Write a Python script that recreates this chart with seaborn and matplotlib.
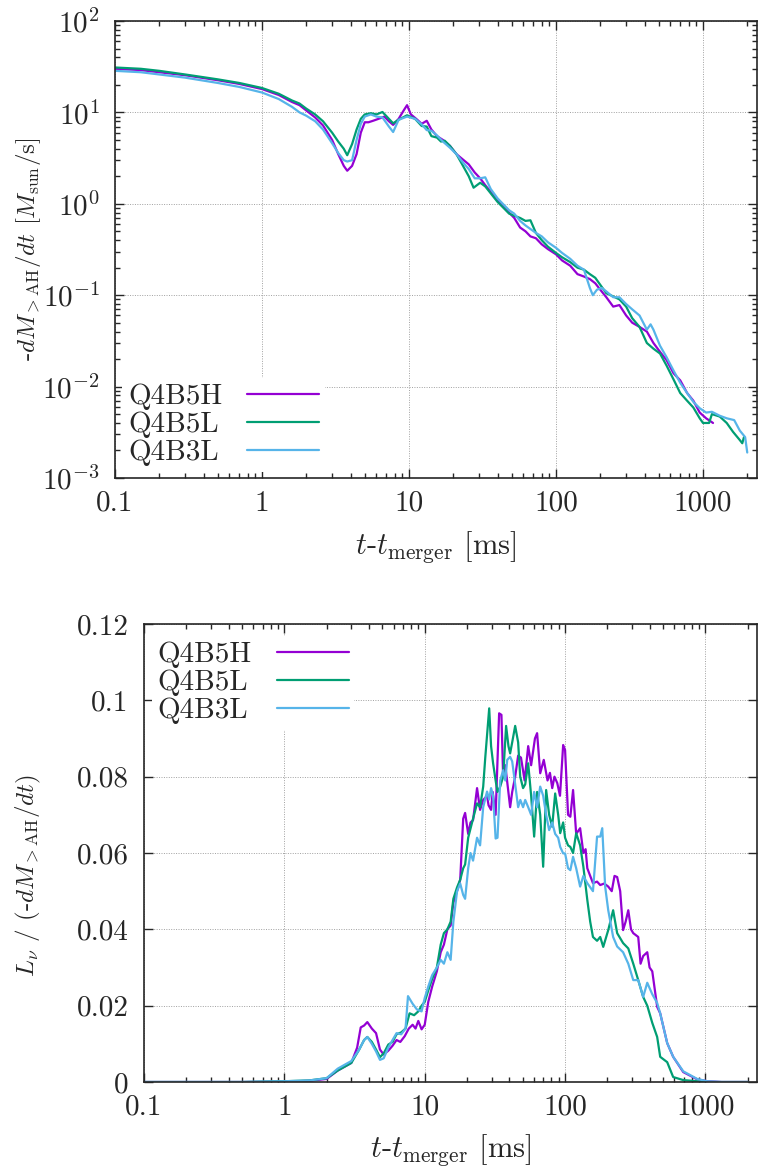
import numpy as np
import pandas as pd
import matplotlib
matplotlib.use("Agg")
import matplotlib.pyplot as plt
import matplotlib.ticker as mticker
import seaborn as sns

# --- Data ---
labels = ["Q4B5H", "Q4B5L", "Q4B3L"]
colors = ["#9400d3", "#009e73", "#56b4e9"]

# top panel: -dM/dt [Msun/s] vs t - t_merger [ms]
t_top_h = [0.1, 0.15, 0.2, 0.3, 0.5, 0.7, 1.0, 1.3, 1.6, 1.8, 2.0, 2.3, 2.6, 3.0, 3.3, 3.6, 3.8, 4.1, 4.4, 4.7,
           5.0, 5.3, 5.7, 6.2, 6.8, 7.3, 7.8, 8.5, 9.2, 9.7, 10.3, 11.2, 12.2, 13.2, 14.2, 15.5, 17, 19, 21, 23,
           25.5, 28, 30.5, 33, 36, 40, 44, 48, 52, 57, 62, 67, 73, 80, 88, 100, 110, 125, 140, 155,
           170, 185, 200, 220, 245, 270, 300, 330, 370, 415, 460, 510, 565, 630, 700, 780, 860, 950, 1050, 1170]
y_top_h = [30, 29, 27.5, 25.5, 22.5, 20.5, 18, 15.5, 13, 12, 10.5, 8.8, 7.2, 5.0, 3.5, 2.6, 2.3, 2.6, 3.5, 6.0,
           7.8, 7.8, 8.1, 8.5, 9.0, 8.0, 7.3, 8.5, 10.5, 12.0, 9.5, 8.5, 7.5, 8.1, 6.5, 5.5, 5.0, 4.3, 3.5, 3.1,
           2.7, 2.2, 1.9, 1.6, 1.35, 1.1, 0.95, 0.8, 0.70, 0.55, 0.50, 0.44, 0.42, 0.36, 0.32, 0.28, 0.24, 0.21, 0.17, 0.16,
           0.15, 0.135, 0.115, 0.095, 0.075, 0.078, 0.060, 0.050, 0.045, 0.040, 0.030, 0.024, 0.0195, 0.014, 0.0117,
           0.0085, 0.0070, 0.0052, 0.0045, 0.0040]

t_top_l5 = [0.1, 0.15, 0.2, 0.3, 0.5, 0.7, 1.0, 1.3, 1.6, 1.8, 2.0, 2.3, 2.6, 3.0, 3.3, 3.6, 3.8, 4.1, 4.4, 4.7,
            5.0, 5.5, 6.0, 6.6, 7.3, 7.8, 8.5, 9.7, 11, 12.2, 13.2, 14.2, 15.5, 16.5, 17.5, 19, 21, 23, 25.5, 27.5,
            30.5, 33, 36, 40, 44, 48, 52, 57, 62, 67, 73, 80, 88, 100, 110, 125, 140, 155, 170, 185,
            200, 220, 245, 270, 300, 330, 370, 415, 460, 510, 565, 630, 700, 780, 860, 950, 1000, 1100, 1150, 1300,
            1450, 1600, 1780, 1850, 1900]
y_top_l5 = [31, 30, 28.5, 26, 23, 21, 18.5, 16, 13.5, 12.5, 11, 9.5, 8.0, 6.0, 4.8, 4.0, 3.4, 4.5, 6.5, 8.5,
            9.5, 9.8, 9.5, 10.1, 8.5, 7.6, 8.3, 9.3, 8.5, 7.1, 7.0, 5.5, 5.3, 4.8, 4.9, 4.3, 3.5, 2.7, 2.0, 1.5,
            1.7, 1.55, 1.3, 1.05, 0.9, 0.78, 0.74, 0.70, 0.65, 0.66, 0.48, 0.40, 0.34, 0.29, 0.26, 0.23, 0.20, 0.19, 0.17, 0.155,
            0.13, 0.105, 0.097, 0.090, 0.075, 0.056, 0.045, 0.030, 0.026, 0.023, 0.017, 0.012, 0.0085, 0.0070, 0.0059,
            0.0045, 0.0040, 0.0040, 0.0050, 0.0047, 0.0040, 0.0032, 0.0026, 0.0024, 0.0028]

t_top_l3 = [0.1, 0.15, 0.2, 0.3, 0.5, 0.7, 1.0, 1.3, 1.6, 1.8, 2.0, 2.3, 2.6, 3.0, 3.3, 3.6, 3.8, 4.1, 4.4, 4.7,
            5.0, 5.5, 6.0, 6.6, 7.3, 7.8, 8.5, 9.7, 11, 12.2, 13.2, 14.2, 15.5, 17, 19, 21, 23, 25.5, 28, 30.5,
            33, 36, 40, 44, 48, 52, 57, 62, 67, 73, 80, 88, 100, 110, 125, 140, 155, 170, 178, 190,
            205, 220, 245, 270, 300, 330, 370, 415, 440, 460, 510, 565, 630, 700, 780, 860, 950, 1050, 1150, 1300,
            1450, 1630, 1780, 1935, 2000]
y_top_l3 = [28.5, 27.5, 26, 24, 21, 19, 16.5, 14, 11.5, 10.0, 9.2, 8.0, 6.5, 4.6, 3.6, 3.0, 2.9, 3.0, 5.0, 7.5,
            9.0, 9.5, 9.0, 8.8, 7.0, 6.1, 8.3, 9.0, 8.5, 7.4, 6.4, 6.3, 5.6, 4.8, 4.1, 3.5, 2.9, 2.4, 1.9, 1.9,
            1.95, 1.45, 1.15, 0.98, 0.85, 0.78, 0.65, 0.58, 0.53, 0.48, 0.44, 0.38, 0.33, 0.29, 0.25, 0.21, 0.19, 0.12, 0.10, 0.115,
            0.12, 0.11, 0.095, 0.095, 0.080, 0.070, 0.060, 0.042, 0.048, 0.042, 0.028, 0.021, 0.015, 0.011, 0.0085,
            0.0068, 0.0058, 0.0052, 0.0053, 0.0048, 0.0045, 0.0043, 0.0033, 0.0028, 0.0019]

# bottom panel: L_nu / (-dM/dt)
t_bot_h = [0.1, 0.5, 1.0, 1.5, 2.0, 2.4, 3.0, 3.3, 3.5, 3.7, 3.9, 4.2, 4.5, 4.8, 5.1, 5.5, 5.9, 6.3, 6.7, 7.2,
           7.7, 8.2, 8.6, 9.0, 9.5, 10.0, 10.6, 11.3, 12.2, 13.0, 13.7, 14.5, 15.3, 16.0, 17.0, 17.9, 18.8, 19.4, 20.4, 21.2,
           22.1, 23.6, 24.8, 26.1, 27.8, 28.5, 29.7, 30.5, 32.0, 33.9, 35.2, 36.2, 37.5, 40.6, 42.0, 44.1, 46.3, 48.5, 51.5, 54.6,
           57.3, 61, 63.2, 66.5, 70.5, 75, 78, 81, 84, 88, 92, 96.9, 100, 105, 109, 114, 120, 128, 135, 140,
           144, 151, 158, 169, 178, 190, 203, 215, 225, 235, 247, 259, 270, 282, 295, 306, 332, 345, 360, 385,
           400, 418, 453, 476, 534, 589, 695, 874, 1030, 1300, 2000]
y_bot_h = [0, 0, 0.0001, 0.0003, 0.0008, 0.0030, 0.0050, 0.0090, 0.0143, 0.0148, 0.0157, 0.0140, 0.0128, 0.0085, 0.0072, 0.0082, 0.0095, 0.0110, 0.0105, 0.0120,
           0.0140, 0.0150, 0.0140, 0.0160, 0.0138, 0.0150, 0.0210, 0.0250, 0.0290, 0.0340, 0.0360, 0.0400, 0.0410, 0.0470, 0.0500, 0.0530, 0.0690, 0.0705, 0.0650, 0.0680,
           0.0686, 0.0770, 0.0713, 0.0739, 0.0750, 0.0725, 0.0713, 0.0760, 0.0700, 0.0966, 0.0962, 0.0800, 0.0830, 0.0720, 0.0760, 0.0800, 0.0855, 0.0850, 0.0790, 0.0880,
           0.0830, 0.0900, 0.0914, 0.0809, 0.0844, 0.0790, 0.0810, 0.0770, 0.0800, 0.0783, 0.0750, 0.0883, 0.0870, 0.0700, 0.0695, 0.0765, 0.0650, 0.0665, 0.0600, 0.0610,
           0.0560, 0.0540, 0.0521, 0.0525, 0.0516, 0.0520, 0.0512, 0.0500, 0.0540, 0.0537, 0.0500, 0.0398, 0.0420, 0.0450, 0.0400, 0.0390, 0.0380, 0.0310, 0.0330, 0.0340,
           0.0300, 0.0290, 0.0197, 0.0180, 0.0102, 0.0066, 0.0026, 0.0007, 0.0002, 0.0, 0.0]

t_bot_l5 = [0.1, 0.5, 1.0, 1.5, 2.0, 2.4, 3.0, 3.4, 3.7, 3.9, 4.2, 4.5, 4.8, 5.1, 5.5, 5.9, 6.3, 6.8, 7.3, 7.8,
            8.4, 9.0, 9.5, 10.0, 10.6, 11.3, 12.2, 13.0, 13.7, 14.5, 15.3, 16.0, 17.0, 17.9, 18.8, 19.4, 20.4, 22.1, 23.6, 24.8,
            26.1, 27.0, 28.8, 29.7, 30.7, 32.0, 33.0, 34.5, 36.2, 38.0, 39.5, 40.6, 42.0, 44.1, 46.3, 47.9, 50.2, 52.0, 54.6, 57.3,
            60.2, 63.2, 66.5, 69.8, 73.3, 77.0, 80.9, 85.0, 89.3, 92.3, 96.9, 100, 105, 109, 114, 120, 128, 135, 144, 151,
            158, 169, 178, 187, 203, 220, 235, 259, 282, 306, 332, 360, 385, 418, 453, 476, 534, 589, 695, 874,
            1030, 2000]
y_bot_l5 = [0, 0, 0.0002, 0.0004, 0.0010, 0.0030, 0.0050, 0.0084, 0.0110, 0.0118, 0.0105, 0.0085, 0.0065, 0.0075, 0.0098, 0.0105, 0.0125, 0.0130, 0.0140, 0.0180,
            0.0175, 0.0185, 0.0200, 0.0210, 0.0240, 0.0270, 0.0300, 0.0360, 0.0390, 0.0400, 0.0420, 0.0480, 0.0510, 0.0530, 0.0560, 0.0570, 0.0640, 0.0690, 0.0730, 0.0720,
            0.0774, 0.0850, 0.0979, 0.0880, 0.0835, 0.0790, 0.0760, 0.0774, 0.0800, 0.0933, 0.0880, 0.0861, 0.0890, 0.0933, 0.0890, 0.0800, 0.0770, 0.0780, 0.0835, 0.0750,
            0.0643, 0.0760, 0.0700, 0.0564, 0.0765, 0.0700, 0.0669, 0.0756, 0.0700, 0.0652, 0.0680, 0.0640, 0.0620, 0.0616, 0.0600, 0.0652, 0.0620, 0.0564, 0.0477, 0.0420,
            0.0380, 0.0370, 0.0380, 0.0354, 0.0398, 0.0450, 0.0390, 0.0364, 0.0350, 0.0310, 0.0267, 0.0223, 0.0200, 0.0155, 0.0118, 0.0066, 0.0052, 0.0013, 0.0005, 0.0002,
            0.0, 0.0]

t_bot_l3 = [0.1, 0.5, 1.0, 1.5, 2.0, 2.4, 3.0, 3.4, 3.7, 3.9, 4.2, 4.5, 4.8, 5.1, 5.5, 5.9, 6.3, 6.8, 7.3, 7.6,
            8.2, 8.8, 9.5, 10.0, 10.6, 11.3, 12.2, 13.0, 13.7, 14.5, 15.3, 16.0, 17.0, 17.9, 18.8, 19.4, 20.4, 21.2, 22.1, 23.6,
            24.8, 26.1, 27.8, 28.8, 29.7, 30.7, 32.0, 33.0, 34.5, 36.2, 37.5, 38.7, 40.6, 42.0, 44.1, 46.3, 48, 50.2, 52.0, 54.6,
            57.3, 60.2, 63.2, 66.5, 69.8, 73.3, 77.0, 80.9, 85.0, 89.3, 92.3, 96.9, 100, 105, 109, 114, 120, 128, 135, 144,
            158, 169, 178, 184, 193, 203, 220, 235, 259, 282, 306, 332, 360, 385, 418, 453, 476, 534, 589, 695,
            874, 1030, 1300, 2000]
y_bot_l3 = [0, 0, 0.0002, 0.0004, 0.0010, 0.0035, 0.0055, 0.0084, 0.0110, 0.0118, 0.0100, 0.0080, 0.0058, 0.0062, 0.0090, 0.0110, 0.0128, 0.0125, 0.0140, 0.0225,
            0.0205, 0.0190, 0.0185, 0.0220, 0.0250, 0.0280, 0.0300, 0.0320, 0.0310, 0.0340, 0.0320, 0.0420, 0.0500, 0.0520, 0.0490, 0.0480, 0.0560, 0.0600, 0.0580, 0.0640,
            0.0620, 0.0720, 0.0761, 0.0740, 0.0770, 0.0750, 0.0638, 0.0640, 0.0790, 0.0817, 0.0790, 0.0844, 0.0852, 0.0840, 0.0780, 0.0720, 0.0739, 0.0720, 0.0739, 0.0720,
            0.0700, 0.0760, 0.0720, 0.0774, 0.0750, 0.0700, 0.0660, 0.0680, 0.0650, 0.0640, 0.0616, 0.0599, 0.0599, 0.0560, 0.0555, 0.0590, 0.0560, 0.0512, 0.0540, 0.0521,
            0.0500, 0.0643, 0.0643, 0.0665, 0.0512, 0.0450, 0.0380, 0.0355, 0.0340, 0.0310, 0.0267, 0.0267, 0.0223, 0.0260, 0.0230, 0.0207, 0.0180, 0.0102, 0.0066, 0.0028,
            0.0008, 0.0002, 0.0, 0.0]

top_series = [(t_top_h, y_top_h), (t_top_l5, y_top_l5), (t_top_l3, y_top_l3)]
bot_series = [(t_bot_h, y_bot_h), (t_bot_l5, y_bot_l5), (t_bot_l3, y_bot_l3)]

# --- Style ---
sns.set_style("ticks")
plt.rcParams["font.family"] = ["cmr10", "DejaVu Serif"]
plt.rcParams["mathtext.fontset"] = "cm"
plt.rcParams["axes.unicode_minus"] = False
plt.rcParams["axes.formatter.use_mathtext"] = True
FS = 21     # tick labels / legend
XFS = 22    # x labels
YFS = 18    # y labels

fig = plt.figure(figsize=(7.58, 11.75), dpi=100)
ax1 = fig.add_axes([115 / 758, 1 - 478 / 1175, 642 / 758, 457 / 1175])
ax2 = fig.add_axes([144 / 758, 1 - 1082 / 1175, 613 / 758, 458 / 1175])

for ax, series in [(ax1, top_series), (ax2, bot_series)]:
    for (t, y), lab, col in zip(series, labels, colors):
        df = pd.DataFrame({"t": t, "y": y})
        sns.lineplot(data=df, x="t", y="y", ax=ax, color=col, lw=1.6, label=lab,
                     sort=False, estimator=None)
    ax.set_xscale("log")
    ax.set_xlim(0.1, 2330)
    ax.xaxis.set_major_locator(mticker.LogLocator(base=10, numticks=10))
    ax.xaxis.set_minor_locator(mticker.LogLocator(base=10, subs=np.arange(2, 10), numticks=10))
    ax.xaxis.set_major_formatter(mticker.FuncFormatter(lambda v, p: "%g" % v))
    ax.xaxis.set_minor_formatter(mticker.NullFormatter())
    ax.grid(True, which="major", color="#a0a0a0", ls=(0, (1, 1.5)), lw=0.7)
    ax.tick_params(which="both", direction="in", top=True, right=True, labelsize=FS, width=1.0)
    ax.tick_params(which="major", length=6.5)
    ax.tick_params(which="minor", length=3.3)
    ax.tick_params(axis="x", pad=9)
    ax.tick_params(axis="y", pad=11)
    for s in ax.spines.values():
        s.set_linewidth(1.2)
    ax.set_xlabel(r"$t$-$t_{\mathrm{merger}}$ [ms]", fontsize=XFS)

# top panel axes
ax1.set_yscale("log")
ax1.set_ylim(1e-3, 1e2)
ax1.yaxis.set_major_locator(mticker.LogLocator(base=10, numticks=10))
ax1.yaxis.set_minor_locator(mticker.LogLocator(base=10, subs=np.arange(2, 10), numticks=10))
ax1.yaxis.set_minor_formatter(mticker.NullFormatter())
ax1.set_ylabel(r"-$dM_{>\mathrm{AH}}/dt$ [$M_{\mathrm{sun}}/\mathrm{s}$]", fontsize=YFS)
ax1.yaxis.set_label_coords(-0.112, 0.5)
ax1.xaxis.set_label_coords(0.5, -0.112)

# bottom panel axes
ax2.set_ylim(0, 0.12)
ax2.set_yticks([0, 0.02, 0.04, 0.06, 0.08, 0.1, 0.12])
ax2.yaxis.set_major_formatter(mticker.FuncFormatter(lambda v, p: "%g" % round(v, 3)))
ax2.set_ylabel(r"$L_\nu$ / (-$dM_{>\mathrm{AH}}/dt$)", fontsize=YFS)
ax2.yaxis.set_label_coords(-0.165, 0.45)
ax2.xaxis.set_label_coords(0.5, -0.11)

leg_kw = dict(fontsize=FS, markerfirst=False, frameon=True, facecolor="white", edgecolor="none",
              framealpha=1.0, fancybox=False, handlelength=2.47, handletextpad=0.84,
              labelspacing=0.05, borderpad=0.2, borderaxespad=0.0, loc="upper left")
leg1 = ax1.legend(bbox_to_anchor=(0.011, 0.219), **leg_kw)
leg2 = ax2.legend(bbox_to_anchor=(0.013, 0.974), **leg_kw)


def left_align(leg):
    # gnuplot style key: text left-aligned, sample lines in one column
    fig.canvas.draw()
    r = fig.canvas.get_renderer()
    col = leg._legend_handle_box.get_children()[0]
    col.align = "left"
    widths = [t.get_window_extent(r).width for t in leg.get_texts()]
    wmax = max(widths)
    for row, w in zip(col.get_children(), widths):
        row.sep += (wmax - w) * 72 / fig.dpi


left_align(leg1)
left_align(leg2)

fig.savefig("out.png", dpi=100)
